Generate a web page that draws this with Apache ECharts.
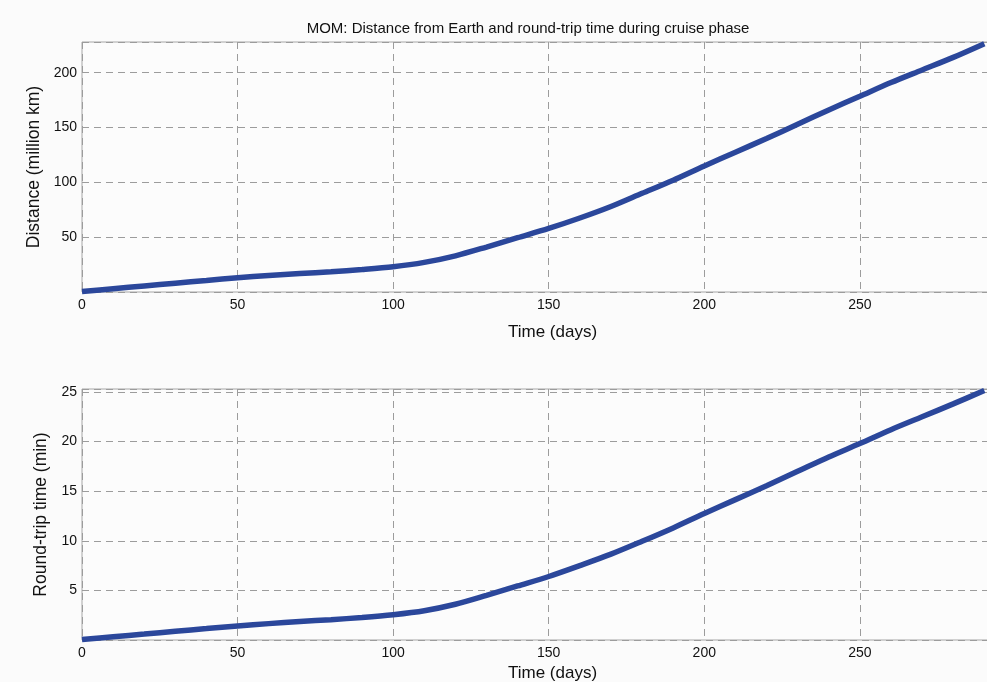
<!DOCTYPE html>
<html>
<head>
<meta charset="utf-8">
<title>MOM cruise phase</title>
<script src="https://cdn.jsdelivr.net/npm/echarts@6/dist/echarts.min.js"></script>
<style>
  html, body { margin: 0; padding: 0; background: #fbfbfb; }
  #chart { width: 987px; height: 682px; }
</style>
</head>
<body>
<div id="chart"></div>
<script>
// days since launch
var days = [0, 10, 20, 30, 40, 50, 60, 70, 80, 90, 100, 110, 120, 130, 140,
  150, 160, 170, 180, 190, 200, 210, 220, 230, 240, 250, 260, 270, 280, 290];

// distance from Earth (million km)
var distance = [0.5, 3, 5.5, 8, 10.5, 13, 15, 16.8, 18.5, 20.5, 23, 27, 33, 41, 49.5,
  58, 67.5, 78, 90, 102, 115, 127.5, 140, 153, 166, 178.5, 191, 202.5, 214, 226.5];

// round-trip light time (min)
var roundTrip = [0.05, 0.33, 0.6, 0.88, 1.15, 1.42, 1.65, 1.86, 2.05, 2.27, 2.55, 2.95, 3.6, 4.5, 5.45,
  6.4, 7.5, 8.65, 9.95, 11.3, 12.75, 14.15, 15.55, 17.0, 18.45, 19.8, 21.2, 22.5, 23.8, 25.15];

var distTicks = [50, 100, 150, 200];
var timeTicks = [5, 10, 15, 20, 25];

var font = 'Liberation Sans, Arial, Helvetica, sans-serif';
var lineColor = '#2b479b';
var gridLine = { show: true, lineStyle: { color: '#9c9c9c', type: [7, 5], width: 1 } };

function pairs(ys) {
  return days.map(function (d, i) { return [d, ys[i]]; });
}

function xAxis(idx, gap) {
  return {
    type: 'value', gridIndex: idx, min: 0, max: 291.5, interval: 50,
    name: 'Time (days)', nameLocation: 'middle', nameGap: gap,
    nameTextStyle: { fontFamily: font, fontSize: 17, color: '#111', padding: [0, 0, 0, 34] },
    axisLine: { show: false }, axisTick: { show: false },
    axisLabel: {
      fontFamily: font, fontSize: 14, color: '#111', margin: 6,
      formatter: function (v) { return v % 50 === 0 ? String(v) : ''; }
    },
    splitLine: gridLine
  };
}

function yAxis(idx, name, max, step, ticks, gap) {
  return {
    type: 'value', gridIndex: idx, min: 0, max: max, interval: step,
    name: name, nameLocation: 'middle', nameGap: gap,
    nameTextStyle: { fontFamily: font, fontSize: 17.5, color: '#111' },
    axisLine: { show: false }, axisTick: { show: false },
    axisLabel: {
      fontFamily: font, fontSize: 14, color: '#111', margin: 5,
      formatter: function (v) { return ticks.indexOf(v) >= 0 ? String(v) : ''; }
    },
    splitLine: gridLine
  };
}

var chart = echarts.init(document.getElementById('chart'));
chart.setOption({
  backgroundColor: '#fbfbfb',
  animation: false,
  title: {
    text: 'MOM: Distance from Earth and round-trip time during cruise phase',
    left: 523, top: 16, textAlign: 'center',
    textStyle: { fontFamily: font, fontSize: 15, fontWeight: 'normal', color: '#111' }
  },
  grid: [
    { left: 82, right: -2, top: 42, height: 250, outerBoundsMode: 'none',
      show: true, backgroundColor: '#fcfcfc', borderColor: '#a6a6a6', borderWidth: 1 },
    { left: 82, right: -2, top: 389, height: 251, outerBoundsMode: 'none',
      show: true, backgroundColor: '#fcfcfc', borderColor: '#a6a6a6', borderWidth: 1 }
  ],
  xAxis: [xAxis(0, 32), xAxis(1, 25)],
  yAxis: [
    yAxis(0, 'Distance (million km)', 228, 50, distTicks, 34.5),
    yAxis(1, 'Round-trip time (min)', 25.3, 5, timeTicks, 28.5)
  ],
  series: [
    {
      type: 'line', xAxisIndex: 0, yAxisIndex: 0, data: pairs(distance),
      smooth: 0.3, showSymbol: false, clip: false,
      lineStyle: { color: lineColor, width: 5.5 }
    },
    {
      type: 'line', xAxisIndex: 1, yAxisIndex: 1, data: pairs(roundTrip),
      smooth: 0.3, showSymbol: false, clip: false,
      lineStyle: { color: lineColor, width: 5.5 }
    }
  ]
});
</script>
</body>
</html>
